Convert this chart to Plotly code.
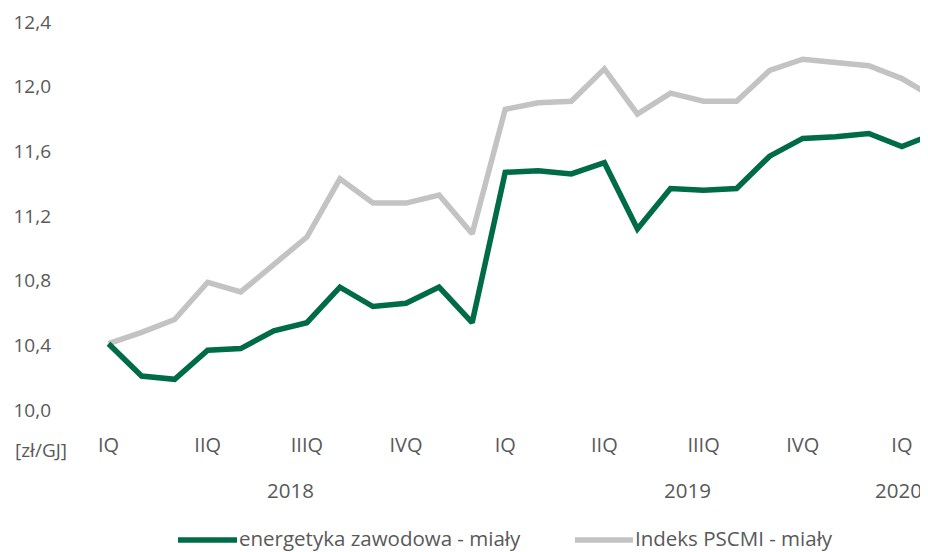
import plotly.graph_objects as go

# ---- data ----
months = ["2018-01", "2018-02", "2018-03", "2018-04", "2018-05", "2018-06",
          "2018-07", "2018-08", "2018-09", "2018-10", "2018-11", "2018-12",
          "2019-01", "2019-02", "2019-03", "2019-04", "2019-05", "2019-06",
          "2019-07", "2019-08", "2019-09", "2019-10", "2019-11", "2019-12",
          "2020-01", "2020-02"]
energetyka = [10.41, 10.21, 10.19, 10.37, 10.38, 10.49, 10.54, 10.76, 10.64, 10.66,
              10.76, 10.54, 11.47, 11.48, 11.46, 11.53, 11.12, 11.37, 11.36, 11.37,
              11.57, 11.68, 11.69, 11.71, 11.63, 11.71]
pscmi = [10.41, 10.48, 10.56, 10.79, 10.73, 10.90, 11.07, 11.43, 11.28, 11.28,
         11.33, 11.09, 11.86, 11.90, 11.91, 12.11, 11.83, 11.96, 11.91, 11.91,
         12.10, 12.17, 12.15, 12.13, 12.05, 11.93]
quarter_idx = [0, 3, 6, 9, 12, 15, 18, 21, 24]
quarter_labels = ["IQ", "IIQ", "IIIQ", "IVQ", "IQ", "IIQ", "IIIQ", "IVQ", "IQ"]
years = ["2018", "2019", "2020"]
year_pos = [5.5, 17.5, 23.9]
series_names = ["energetyka zawodowa - miały", "Indeks PSCMI - miały"]
y_ticks = [10.0, 10.4, 10.8, 11.2, 11.6, 12.0, 12.4]
unit_label = "[zł/GJ]"

# ---- style ----
OFF = 8  # default page body margin
W, H = 928 - OFF, 552 - OFF
ML, MR, MT, MB = 92 - OFF, 0, 22 - OFF, 142
PW, PH = W - ML - MR, H - MT - MB
GREEN = "#006B47"
GRAY = "#C3C3C3"
TXT = "#595959"
FONT = "Open Sans"

def px_x(p):
    return (p - OFF - ML) / PW

def px_y(p):
    return (H - MB - (p - OFF)) / PH

x = list(range(len(months)))

fig = go.Figure()
fig.add_trace(go.Scatter(x=x, y=pscmi, mode="lines", name=series_names[1],
                         line=dict(color=GRAY, width=5.5), hoverinfo="skip",
                         customdata=months))
fig.add_trace(go.Scatter(x=x, y=energetyka, mode="lines", name=series_names[0],
                         line=dict(color=GREEN, width=5.5), hoverinfo="skip",
                         customdata=months))

fig.update_layout(
    width=W, height=H,
    margin=dict(l=ML, r=MR, t=MT, b=MB, pad=0),
    paper_bgcolor="white", plot_bgcolor="white",
    showlegend=False,
    separators=", ",
    font=dict(family=FONT, size=19, color=TXT),
    xaxis=dict(range=[-0.5, 24.79], tickmode="array", tickvals=quarter_idx,
               ticktext=quarter_labels, showgrid=False, zeroline=False,
               showline=False, ticks="", ticklabelstandoff=21,
               tickfont=dict(family=FONT, size=20, color=TXT)),
    yaxis=dict(range=[10.0, 12.4], tickmode="array", tickvals=y_ticks,
               tickformat=".1f", showgrid=False, zeroline=False, showline=False,
               ticks="", ticklabelstandoff=40,
               tickfont=dict(family=FONT, size=19, color=TXT)),
)

anns = []
anns.append(dict(text=unit_label, xref="paper", yref="paper", x=px_x(41), y=px_y(450),
                 xanchor="center", yanchor="middle", showarrow=False,
                 font=dict(family=FONT, size=19, color=TXT)))
for yr, pos in zip(years, year_pos):
    anns.append(dict(text=yr, xref="x", yref="paper", x=pos, y=px_y(490),
                     xanchor="center", yanchor="middle", showarrow=False,
                     font=dict(family=FONT, size=20.5, color=TXT)))

# manual legend
legend_items = [(series_names[0], GREEN, 178, 237), (series_names[1], GRAY, 575, 633)]
shapes = []
for name, col, x0, x1 in legend_items:
    shapes.append(dict(type="line", xref="paper", yref="paper",
                       x0=px_x(x0), x1=px_x(x1), y0=px_y(540), y1=px_y(540),
                       line=dict(color=col, width=5.5)))
    anns.append(dict(text=name, xref="paper", yref="paper", x=px_x(x1), y=px_y(538),
                     xanchor="left", yanchor="middle", showarrow=False,
                     font=dict(family=FONT, size=20.5, color=TXT)))
fig.update_layout(annotations=anns, shapes=shapes)

fig.write_html("out.html")
